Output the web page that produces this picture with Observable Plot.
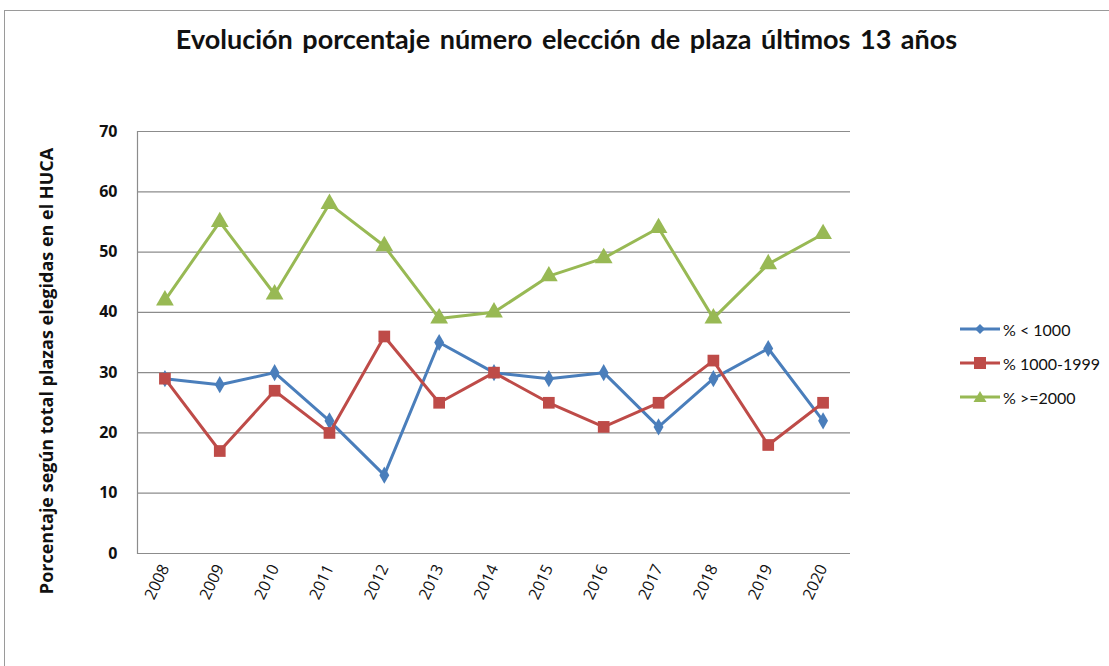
<!DOCTYPE html>
<html>
<head>
<meta charset="utf-8">
<script src="https://cdn.jsdelivr.net/npm/d3@7"></script>
<script src="https://cdn.jsdelivr.net/npm/@observablehq/plot@0.6"></script>
<style>
  html, body { margin: 0; padding: 0; background: #fff; }
  #page { position: relative; width: 1109px; height: 666px; overflow: hidden; background: #fff; }
  #frame { position: absolute; left: 4px; top: 10px; width: 1120px; height: 680px; border: 1.5px solid #9a9a9a; box-sizing: border-box; }
  #title { position: absolute; left: 0; top: 22px; width: 1133px; text-align: center; font-family: Lato, sans-serif; font-weight: bold; font-size: 27px; letter-spacing: 0px; word-spacing: 3px; color: #111; }
  #ylabel { position: absolute; left: 46px; top: 371px; transform: translate(-50%, -50%) rotate(-90deg); white-space: nowrap; font-family: "Open Sans", sans-serif; font-weight: bold; font-size: 18px; color: #111; }
  #chart { position: absolute; left: 0; top: 0; }
  #legend { position: absolute; left: 960px; top: 312px; font-family: Lato, sans-serif; font-size: 16px; color: #111; }
  .item { display: flex; align-items: center; height: 34px; }
  .item svg { margin-right: 3px; }
</style>
</head>
<body>
<div id="page">
  <div id="frame"></div>
  <div id="title">Evolución porcentaje número elección de plaza últimos 13 años</div>
  <div id="chart"></div>
  <div id="ylabel">Porcentaje según total plazas elegidas en el HUCA</div>
  <div id="legend"></div>
</div>
<script>
const years = ["2008","2009","2010","2011","2012","2013","2014","2015","2016","2017","2018","2019","2020"];
const seriesNames = ["% < 1000", "% 1000-1999", "% >=2000"];
const below1000 = [29, 28, 30, 22, 13, 35, 30, 29, 30, 21, 29, 34, 22];
const from1000to1999 = [29, 17, 27, 20, 36, 25, 30, 25, 21, 25, 32, 18, 25];
const above2000 = [42, 55, 43, 58, 51, 39, 40, 46, 49, 54, 39, 48, 53];
const yTicks = [0, 10, 20, 30, 40, 50, 60, 70];
const colors = ["#4a7ebb", "#be4b48", "#98b954"];
const symbols = ["diamond", "square", "triangle"];
const symbolSizes = [5.2, 6.6, 6.6];

const valueArrays = [below1000, from1000to1999, above2000];
const data = [];
valueArrays.forEach((arr, i) => {
  arr.forEach((v, j) => data.push({year: years[j], value: v, series: seriesNames[i]}));
});

const chart = Plot.plot({
  width: 880,
  height: 630,
  marginLeft: 137,
  marginRight: 30,
  marginTop: 131,
  marginBottom: 77,
  style: {fontFamily: "'Open Sans', sans-serif", background: "transparent"},
  x: {type: "point", domain: years, padding: 0.5, round: false},
  y: {domain: [0, 70]},
  color: {domain: seriesNames, range: colors},
  symbol: {domain: seriesNames, range: symbols},
  marks: [
    Plot.ruleY(yTicks, {stroke: "#8c8c8c", strokeWidth: 1.2}),
    Plot.frame({anchor: "left", stroke: "#8c8c8c", strokeWidth: 1.2}),
    Plot.axisY({ticks: yTicks, tickSize: 0, tickPadding: 20, fontSize: 16, fontWeight: "bold", fill: "#111", label: null}),
    Plot.axisX({tickSize: 0, tickPadding: 12, tickRotate: -65, fontSize: 16, fill: "#111", label: null}),
    Plot.line(data, {x: "year", y: "value", z: "series", stroke: "series", strokeWidth: 3}),
    ...seriesNames.map((s, i) =>
      Plot.dot(data.filter(d => d.series === s), {x: "year", y: "value", symbol: "series", fill: "series", r: symbolSizes[i], stroke: "none"})
    )
  ]
});
document.getElementById("chart").appendChild(chart);

const legend = document.getElementById("legend");
const legendSym = {
  diamond: '<path d="M20,2 L25,7 L20,12 L15,7 Z"/>',
  square: '<rect x="14" y="1" width="12" height="12"/>',
  triangle: '<path d="M20,1 L26.5,12 L13.5,12 Z"/>'
};
seriesNames.forEach((s, i) => {
  const div = document.createElement("div");
  div.className = "item";
  div.innerHTML = `<svg width="40" height="14"><line x1="0" x2="40" y1="7" y2="7" stroke="${colors[i]}" stroke-width="3"/><g fill="${colors[i]}">${legendSym[symbols[i]]}</g></svg><span>${s}</span>`;
  legend.appendChild(div);
});
</script>
</body>
</html>
